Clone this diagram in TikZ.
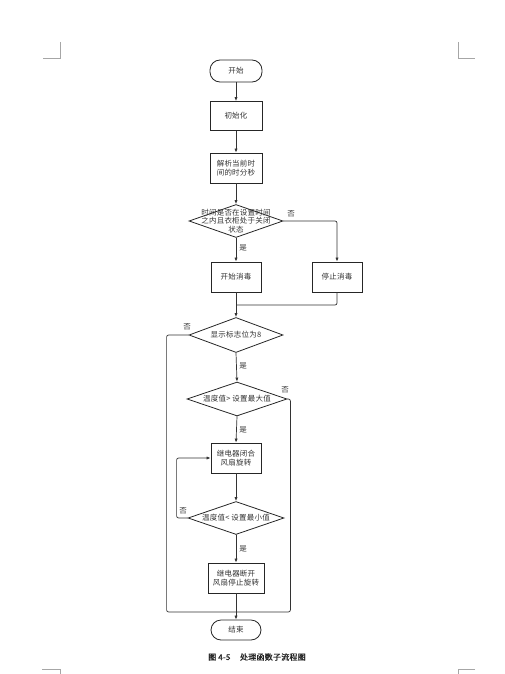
\documentclass[tikz,border=0pt]{standalone}
\usepackage{fontspec}
\newfontfamily\cjk[LetterSpace=3]{Noto Sans CJK SC}
\newfontfamily\cjkb[FakeBold=1.5,LetterSpace=3]{Noto Sans CJK SC}
\usetikzlibrary{shapes.geometric,arrows.meta}
\begin{document}
\begin{tikzpicture}[x=1pt,y=-1pt,
  font=\cjk\fontsize{7.5}{9}\selectfont,
  every node/.style={text=black!80},
  boxnode/.style={draw=black!85,line width=0.8pt,minimum width=52pt,minimum height=30pt,inner sep=1pt,align=center},
  termnode/.style={draw=black!85,line width=0.8pt,rounded corners=10pt,minimum width=52pt,minimum height=22pt,inner sep=1pt},
  dianode/.style={draw=black!85,line width=0.8pt,diamond,inner sep=0pt},
  txtnode/.style={align=center,inner sep=0pt,font=\cjk\fontsize{7.5}{8.5}\selectfont},
  lbl/.style={inner sep=0pt,font=\cjk\fontsize{7.5}{8}\selectfont},
  conn/.style={draw=black!80,line width=0.7pt,rounded corners=2pt},
  arr/.style={conn,-{Latex[length=4pt,width=3.2pt]}},
  crop/.style={draw=black!35,line width=0.6pt}
]
\useasboundingbox (0,0) rectangle (504,674);
% crop marks
\draw[crop] (60,42) -- (60,58) -- (43,58);
\draw[crop] (458,42) -- (458,58) -- (475,58);
\draw[crop] (42,669) -- (60,669) -- (60,674);
\draw[crop] (475,669) -- (458,669) -- (458,674);

% nodes
\node[termnode] (start) at (236,71) {开始};
\node[boxnode,minimum height=29pt] (init) at (236,116) {初始化};
\node[boxnode] (parse) at (236,168) {解析当前时\\间的时分秒};
\node[dianode,minimum width=94pt,minimum height=33pt] (d1) at (236,221) {};
\node[txtnode] (d1t) at (236,221) {时间是否在设置时间\\之内且衣柜处于关闭\\状态};
\node[boxnode,minimum width=50pt] (s1) at (236,277) {开始消毒};
\node[boxnode,minimum width=50pt] (s2) at (337,277) {停止消毒};
\coordinate (m1) at (236,305);
\node[dianode,minimum width=94pt,minimum height=35pt] (d2) at (236,335) {};
\node[txtnode] (d2t) at (236,335) {显示标志位为8};
\node[dianode,minimum width=100pt,minimum height=34pt] (d3) at (237,399) {};
\node[txtnode] (d3t) at (237,399) {温度值> 设置最大值};
\node[boxnode,minimum width=50pt] (r1) at (236,458) {继电器闭合\\风扇旋转};
\node[dianode,minimum width=96pt,minimum height=33pt] (d4) at (236,518) {};
\node[txtnode] (d4t) at (236,518) {温度值< 设置最小值};
\node[boxnode,minimum width=56pt] (r2) at (236,578) {继电器断开\\风扇停止旋转};
\coordinate (m2) at (236,612);
\node[termnode,minimum width=50pt,minimum height=20pt] (end) at (236,630) {结束};
\node[inner sep=0pt,font=\cjkb\fontsize{8}{9}\selectfont,text=black!85] (cap) at (257,657) {图 4-5\hspace{1.2em}处理函数子流程图};

% connectors
\draw[arr] (start) -- (init);
\draw[arr] (init) -- (parse);
\draw[arr] (parse) -- (d1);
\draw[arr] (d1.south) -- (s1.north);
\draw[arr] (d1.east) -| (s2.north);
\draw[conn] (s1.south) -- (m1);
\draw[conn] (s2.south) |- (m1);
\draw[arr] (m1) -- (d2.north);
\draw[arr] (d2.south) -- (d3.north);
\draw[arr] (d3.south) -- (r1.north);
\draw[arr] (r1.south) -- (d4.north);
\draw[arr] (d4.south) -- (r2.north);
\draw[arr] (d4.west) -- ++(-11,0) |- (r1.west);
\draw[conn] (d2.west) -- ++(-22,0) |- (m2);
\draw[conn] (d3.east) -- ++(3,0) |- (m2);
\draw[arr] (r2.south) -- (end.north);

% labels
\node[lbl] (l1n) at (291,214) {否};
\node[lbl] (l1y) at (243,248) {是};
\node[lbl] (l2n) at (187,327) {否};
\node[lbl] (l2y) at (243,366) {是};
\node[lbl] (l3n) at (285,390) {否};
\node[lbl] (l3y) at (243,430) {是};
\node[lbl] (l4n) at (183,511) {否};
\node[lbl] (l4y) at (243,549) {是};
\end{tikzpicture}
\end{document}
